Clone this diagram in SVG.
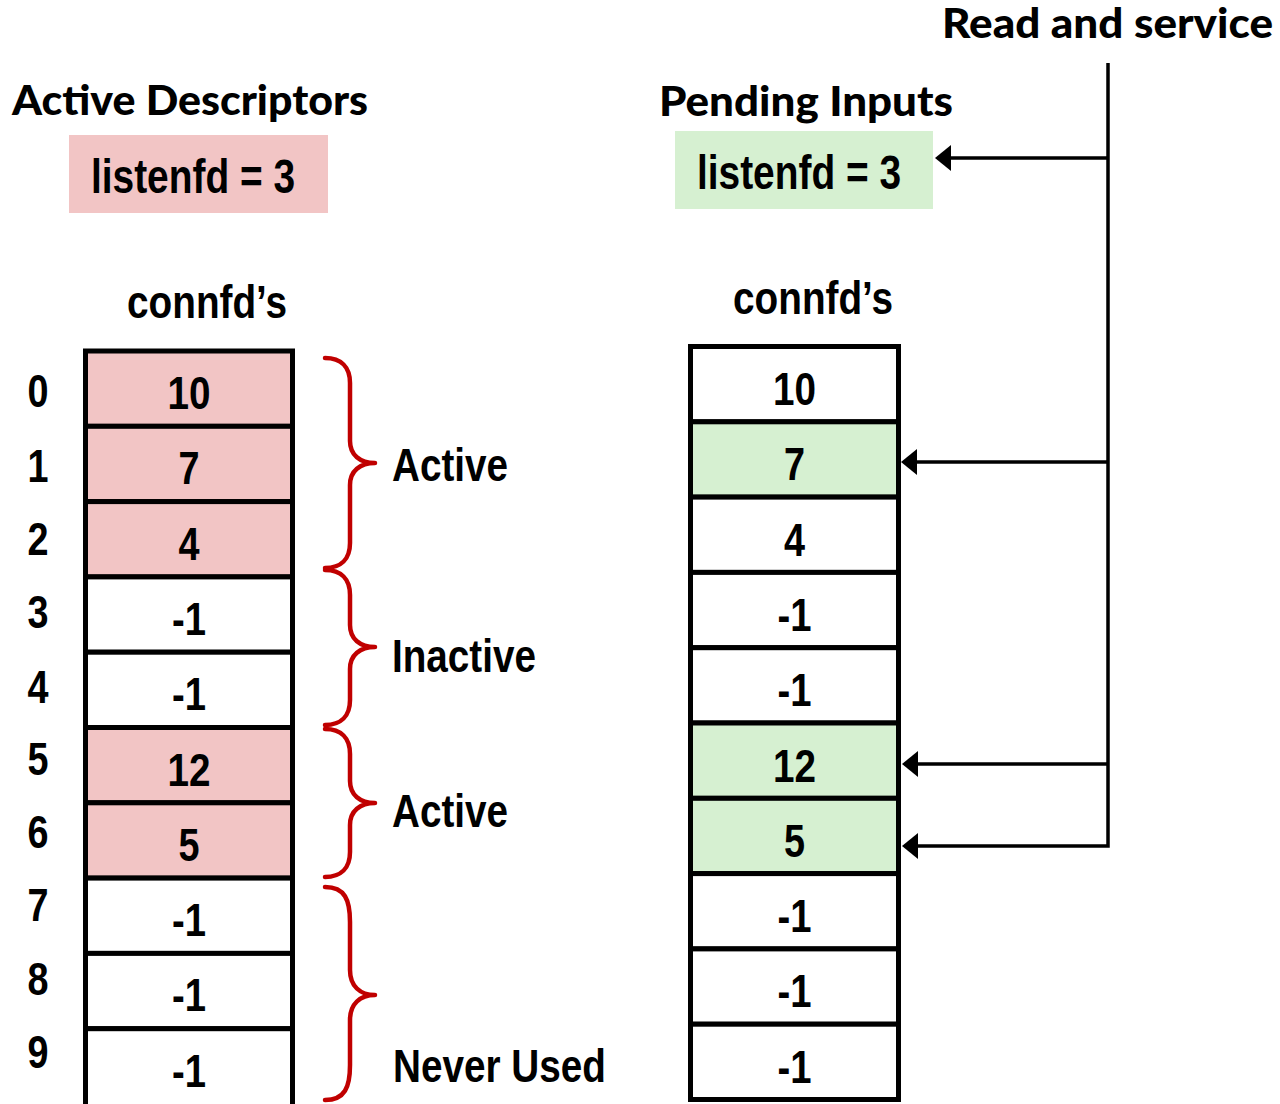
<svg xmlns="http://www.w3.org/2000/svg" width="1280" height="1104" viewBox="0 0 1280 1104">
<defs>
<style>
.hd{font-family:Lato,"Open Sans","Liberation Sans",sans-serif;font-weight:900;font-size:41px;fill:#000}
.nt{font-family:"Liberation Sans Narrow","Liberation Sans",Arial,sans-serif;font-weight:bold;font-size:47px;fill:#000}
.c{text-anchor:middle}
.cell{stroke:#000;stroke-width:5;fill:#fff}
.pk{fill:#f2c5c5}
.gr{fill:#d6f0d1}
.br{fill:none;stroke:#c00000;stroke-width:4.5;stroke-linecap:round;stroke-linejoin:round}
.cn{fill:none;stroke:#000;stroke-width:3.5}
</style>
<marker id="ah" markerUnits="userSpaceOnUse" markerWidth="16" markerHeight="26" viewBox="0 0 16 26" refX="0" refY="13" orient="auto">
<path d="M0,0 L16,13 L0,26 z" fill="#000"/>
</marker>
</defs>
<rect width="1280" height="1104" fill="#fff"/>

<g id="title-read">
<text class="hd" x="942" y="38" textLength="331" lengthAdjust="spacingAndGlyphs">Read and service</text>
</g>
<g id="title-active">
<text class="hd" x="12" y="115" textLength="356" lengthAdjust="spacingAndGlyphs">Active Descriptors</text>
</g>
<g id="title-pending">
<text class="hd" x="659" y="116" textLength="294" lengthAdjust="spacingAndGlyphs">Pending Inputs</text>
</g>

<g id="listen-left">
<rect x="69" y="135" width="259" height="78" class="pk"/>
<text class="nt" x="91" y="193" style="font-size:48px" textLength="204" lengthAdjust="spacingAndGlyphs">listenfd = 3</text>
</g>
<g id="listen-right">
<rect x="675" y="131" width="258" height="78" class="gr"/>
<text class="nt" x="697" y="189" style="font-size:48px" textLength="204" lengthAdjust="spacingAndGlyphs">listenfd = 3</text>
</g>

<g id="connfd-left-label">
<text class="nt" x="127" y="318" textLength="160" lengthAdjust="spacingAndGlyphs">connfd’s</text>
</g>
<g id="connfd-right-label">
<text class="nt" x="733" y="314" textLength="160" lengthAdjust="spacingAndGlyphs">connfd’s</text>
</g>

<g id="row-indices">
<text class="nt c" x="38" y="407" textLength="21" lengthAdjust="spacingAndGlyphs">0</text>
<text class="nt c" x="38" y="482" textLength="21" lengthAdjust="spacingAndGlyphs">1</text>
<text class="nt c" x="38" y="555" textLength="21" lengthAdjust="spacingAndGlyphs">2</text>
<text class="nt c" x="38" y="628" textLength="21" lengthAdjust="spacingAndGlyphs">3</text>
<text class="nt c" x="38" y="703" textLength="21" lengthAdjust="spacingAndGlyphs">4</text>
<text class="nt c" x="38" y="775" textLength="21" lengthAdjust="spacingAndGlyphs">5</text>
<text class="nt c" x="38" y="848" textLength="21" lengthAdjust="spacingAndGlyphs">6</text>
<text class="nt c" x="38" y="921" textLength="21" lengthAdjust="spacingAndGlyphs">7</text>
<text class="nt c" x="38" y="995" textLength="21" lengthAdjust="spacingAndGlyphs">8</text>
<text class="nt c" x="38" y="1068" textLength="21" lengthAdjust="spacingAndGlyphs">9</text>
</g>

<g id="left-table">
<g id="L0"><rect class="cell pk" x="85.5" y="351" width="207" height="75.3"/><text class="nt c" x="189" y="409" textLength="43" lengthAdjust="spacingAndGlyphs">10</text></g>
<g id="L1"><rect class="cell pk" x="85.5" y="426.3" width="207" height="75.3"/><text class="nt c" x="189" y="484.3" textLength="21" lengthAdjust="spacingAndGlyphs">7</text></g>
<g id="L2"><rect class="cell pk" x="85.5" y="501.6" width="207" height="75.3"/><text class="nt c" x="189" y="559.6" textLength="21" lengthAdjust="spacingAndGlyphs">4</text></g>
<g id="L3"><rect class="cell" x="85.5" y="576.9" width="207" height="75.3"/><text class="nt c" x="189" y="634.9" textLength="34" lengthAdjust="spacingAndGlyphs">-1</text></g>
<g id="L4"><rect class="cell" x="85.5" y="652.2" width="207" height="75.3"/><text class="nt c" x="189" y="710.2" textLength="34" lengthAdjust="spacingAndGlyphs">-1</text></g>
<g id="L5"><rect class="cell pk" x="85.5" y="727.5" width="207" height="75.3"/><text class="nt c" x="189" y="785.5" textLength="43" lengthAdjust="spacingAndGlyphs">12</text></g>
<g id="L6"><rect class="cell pk" x="85.5" y="802.8" width="207" height="75.3"/><text class="nt c" x="189" y="860.8" textLength="21" lengthAdjust="spacingAndGlyphs">5</text></g>
<g id="L7"><rect class="cell" x="85.5" y="878.1" width="207" height="75.3"/><text class="nt c" x="189" y="936.1" textLength="34" lengthAdjust="spacingAndGlyphs">-1</text></g>
<g id="L8"><rect class="cell" x="85.5" y="953.4" width="207" height="75.3"/><text class="nt c" x="189" y="1011.4" textLength="34" lengthAdjust="spacingAndGlyphs">-1</text></g>
<g id="L9"><rect class="cell" x="85.5" y="1028.7" width="207" height="100"/><text class="nt c" x="189" y="1086.7" textLength="34" lengthAdjust="spacingAndGlyphs">-1</text></g>
</g>

<g id="right-table">
<g id="R0"><rect class="cell" x="690.5" y="346.5" width="208" height="75.3"/><text class="nt c" x="794.5" y="405" textLength="43" lengthAdjust="spacingAndGlyphs">10</text></g>
<g id="R1"><rect class="cell gr" x="690.5" y="421.8" width="208" height="75.3"/><text class="nt c" x="794.5" y="480.3" textLength="21" lengthAdjust="spacingAndGlyphs">7</text></g>
<g id="R2"><rect class="cell" x="690.5" y="497.1" width="208" height="75.3"/><text class="nt c" x="794.5" y="555.6" textLength="21" lengthAdjust="spacingAndGlyphs">4</text></g>
<g id="R3"><rect class="cell" x="690.5" y="572.4" width="208" height="75.3"/><text class="nt c" x="794.5" y="630.9" textLength="34" lengthAdjust="spacingAndGlyphs">-1</text></g>
<g id="R4"><rect class="cell" x="690.5" y="647.7" width="208" height="75.3"/><text class="nt c" x="794.5" y="706.2" textLength="34" lengthAdjust="spacingAndGlyphs">-1</text></g>
<g id="R5"><rect class="cell gr" x="690.5" y="723" width="208" height="75.3"/><text class="nt c" x="794.5" y="781.5" textLength="43" lengthAdjust="spacingAndGlyphs">12</text></g>
<g id="R6"><rect class="cell gr" x="690.5" y="798.3" width="208" height="75.3"/><text class="nt c" x="794.5" y="856.8" textLength="21" lengthAdjust="spacingAndGlyphs">5</text></g>
<g id="R7"><rect class="cell" x="690.5" y="873.6" width="208" height="75.3"/><text class="nt c" x="794.5" y="932.1" textLength="34" lengthAdjust="spacingAndGlyphs">-1</text></g>
<g id="R8"><rect class="cell" x="690.5" y="948.9" width="208" height="75.3"/><text class="nt c" x="794.5" y="1007.4" textLength="34" lengthAdjust="spacingAndGlyphs">-1</text></g>
<g id="R9"><rect class="cell" x="690.5" y="1024.2" width="208" height="75.3"/><text class="nt c" x="794.5" y="1082.7" textLength="34" lengthAdjust="spacingAndGlyphs">-1</text></g>
</g>

<g id="braces">
<g id="brace-active-1">
<path class="br" d="M325,358 C341,358 350,367 350,383 L350,441 C350,455 360,463 375,463 C360,463 350,471 350,485 L350,543 C350,559 341,568 325,568"/>
<text class="nt" x="392" y="481" textLength="116" lengthAdjust="spacingAndGlyphs">Active</text>
</g>
<g id="brace-inactive">
<path class="br" d="M325,570 C341,570 350,579 350,595 L350,625 C350,639 360,647 375,647 C360,647 350,655 350,669 L350,700 C350,716 341,725 325,725"/>
<text class="nt" x="392" y="672" textLength="144" lengthAdjust="spacingAndGlyphs">Inactive</text>
</g>
<g id="brace-active-2">
<path class="br" d="M325,729 C341,729 350,738 350,754 L350,781 C350,795 360,803 375,803 C360,803 350,811 350,825 L350,852 C350,868 341,877 325,877"/>
<text class="nt" x="392" y="827" textLength="116" lengthAdjust="spacingAndGlyphs">Active</text>
</g>
<g id="brace-never">
<path class="br" d="M325,887 C345,887 350,900 350,922 L350,970 C350,986 360,995 375,995 C360,995 350,1004 350,1020 L350,1065 C350,1087 345,1100 325,1100"/>
<text class="nt" x="393" y="1082" textLength="213" lengthAdjust="spacingAndGlyphs">Never Used</text>
</g>
</g>

<g id="connectors">
<path class="cn" d="M1108,63 V846 H918" marker-end="url(#ah)"/>
<path class="cn" d="M1108,158 H951" marker-end="url(#ah)"/>
<path class="cn" d="M1108,462 H917" marker-end="url(#ah)"/>
<path class="cn" d="M1108,764 H918" marker-end="url(#ah)"/>
</g>
</svg>
